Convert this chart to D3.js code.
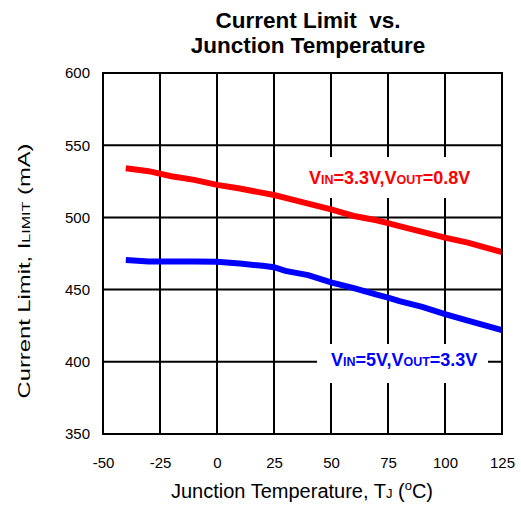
<!DOCTYPE html>
<html><head><meta charset="utf-8">
<script src="https://cdn.jsdelivr.net/npm/d3@7"></script>
<style>body{margin:0;background:#fff}svg{display:block;font-family:"Liberation Sans",Arial,sans-serif}</style>
</head><body><div id="chart"></div>
<script>
const temps = [-40,-30,-20,-10,0,10,20,25,30,40,50,60,70,75,80,90,100,110,125];
const redVals = [534,532,528.5,526,522.5,520,517,515.5,513.5,509.5,505.5,501,498,496,494,490,486,482.5,476];
const blueVals = [470.5,469.5,469.5,469.5,469.3,468,466.5,465.5,463,460,455,451,446.5,444.5,442,438,433,428.5,422];
const xTicks = [-50,-25,0,25,50,75,100,125];
const yTicks = [350,400,450,500,550,600];

const W = 521, H = 507;
const m = {left:103, top:73, right:502, bottom:434};
const svg = d3.select("#chart").append("svg").attr("width",W).attr("height",H);
const x = d3.scaleLinear().domain([-50,125]).range([m.left,m.right]);
const y = d3.scaleLinear().domain([350,600]).range([m.bottom,m.top]);

// grid
svg.append("g").selectAll("line").data(xTicks).join("line")
  .attr("x1",d=>x(d)).attr("x2",d=>x(d)).attr("y1",m.top).attr("y2",m.bottom)
  .attr("stroke","#000").attr("stroke-width",2);
svg.append("g").selectAll("line").data(yTicks).join("line")
  .attr("y1",d=>y(d)).attr("y2",d=>y(d)).attr("x1",m.left).attr("x2",m.right)
  .attr("stroke","#000").attr("stroke-width",2);

// axes labels via d3 axes (no domain/ticks lines)
const xa = svg.append("g").attr("transform",`translate(0,${m.bottom})`)
  .call(d3.axisBottom(x).tickValues(xTicks).tickSize(0).tickPadding(23).tickFormat(d=>String(d)));
const ya = svg.append("g").attr("transform",`translate(${m.left},0)`)
  .call(d3.axisLeft(y).tickValues(yTicks).tickSize(0).tickPadding(13).tickFormat(d=>String(d)));
[xa,ya].forEach(a=>{a.select(".domain").remove();a.selectAll("text").attr("font-size",15).attr("font-family","Liberation Sans, Arial, sans-serif").attr("fill","#000");});

// label boxes
svg.append("rect").attr("x",300).attr("y",157).attr("width",180).attr("height",41).attr("fill","#fff");
svg.append("rect").attr("x",317).attr("y",344).attr("width",171).attr("height",39).attr("fill","#fff");

// lines
const line = d3.line().x(d=>x(d[0])).y(d=>y(d[1]));
svg.append("path").datum(temps.map((t,i)=>[t,redVals[i]])).attr("d",line)
  .attr("fill","none").attr("stroke","#ff0000").attr("stroke-width",6);
svg.append("path").datum(temps.map((t,i)=>[t,blueVals[i]])).attr("d",line)
  .attr("fill","none").attr("stroke","#0000ff").attr("stroke-width",6);

// frame
svg.append("rect").attr("x",m.left).attr("y",m.top).attr("width",m.right-m.left).attr("height",m.bottom-m.top)
  .attr("fill","none").attr("stroke","#000").attr("stroke-width",2);

// series labels
function vlabel(xp, yp, color, a, b){
  const t = svg.append("text").attr("x",xp).attr("y",yp).attr("fill",color)
    .attr("font-weight","bold").attr("font-size",18);
  t.append("tspan").text("V");
  t.append("tspan").attr("font-size",12.5).text("IN");
  t.append("tspan").text("="+a+",V");
  t.append("tspan").attr("font-size",12.5).text("OUT");
  t.append("tspan").text("="+b);
}
vlabel(309,184,"#ff0000","3.3V","0.8V");
vlabel(331,366,"#0000ff","5V","3.3V");

// title
svg.append("text").attr("x",308).attr("y",28).attr("text-anchor","middle").attr("font-weight","bold").attr("font-size",22.5).style("white-space","pre").text("Current Limit  vs.");
svg.append("text").attr("x",308).attr("y",53).attr("text-anchor","middle").attr("font-weight","bold").attr("font-size",22.5).text("Junction Temperature");

// x title
const xt = svg.append("text").attr("x",302).attr("y",498).attr("text-anchor","middle").attr("font-size",20);
xt.append("tspan").text("Junction Temperature, T");
xt.append("tspan").attr("font-size",13).text("J");
xt.append("tspan").text(" (");
xt.append("tspan").attr("font-size",13).attr("dy",-8).text("o");
xt.append("tspan").attr("dy",8).text("C)");

// y title
const yt = svg.append("text").attr("transform","translate(30,271) rotate(-90)").attr("text-anchor","middle").attr("font-size",17)
  .attr("textLength",255).attr("lengthAdjust","spacingAndGlyphs");
yt.append("tspan").text("Current Limit, I");
yt.append("tspan").attr("font-size",11.5).text("LIMIT");
yt.append("tspan").text(" (mA)");
</script></body></html>
